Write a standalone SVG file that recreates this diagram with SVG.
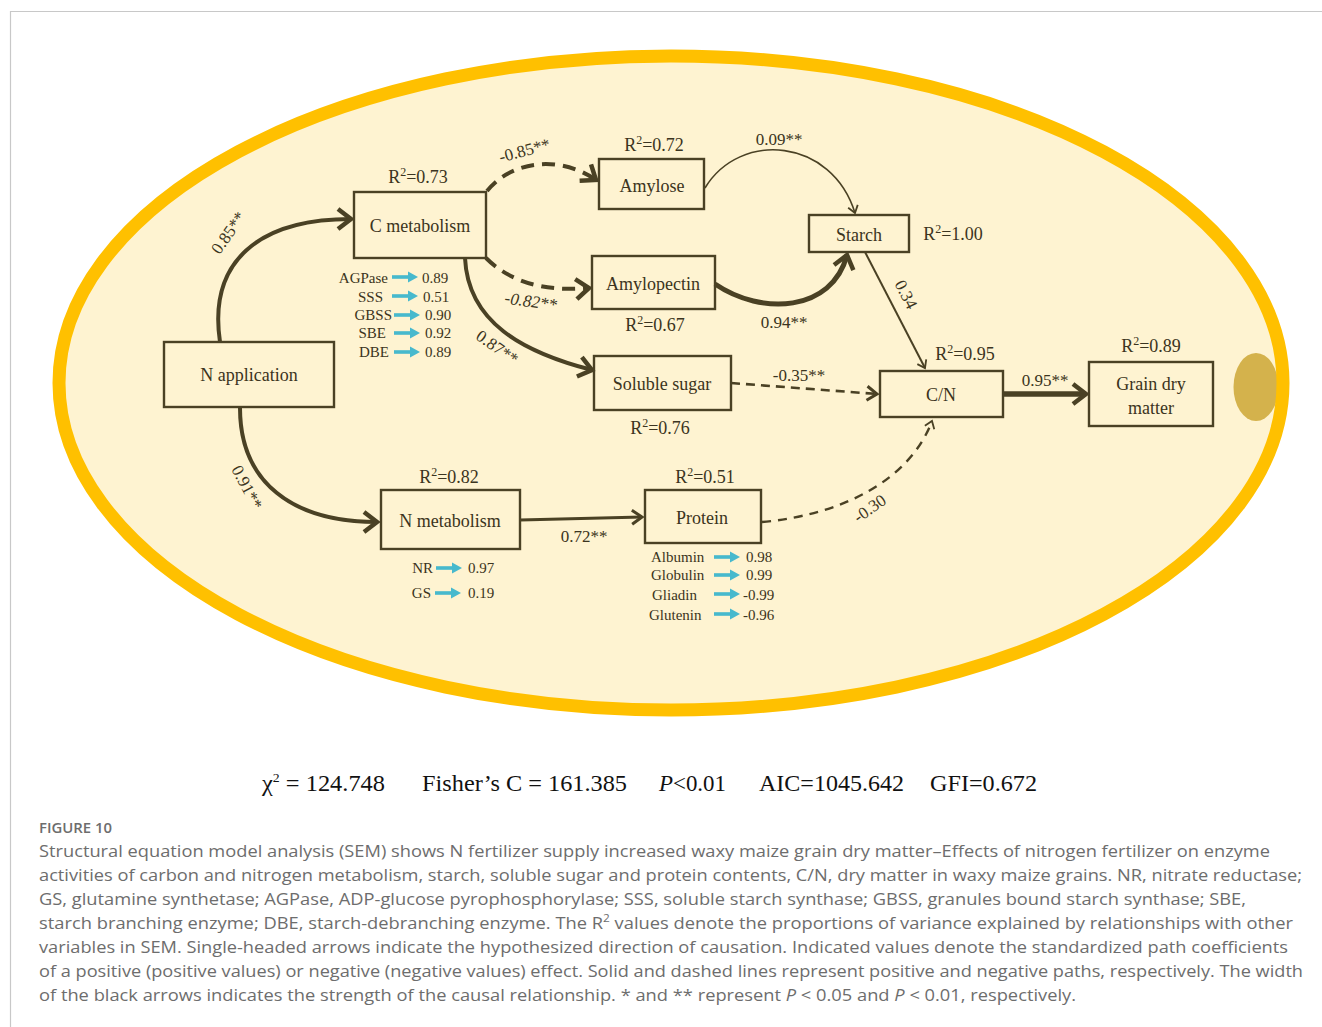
<svg xmlns="http://www.w3.org/2000/svg" width="1322" height="1027" viewBox="0 0 1322 1027">
<style>
.nt{font-family:"Liberation Serif","Times New Roman",serif;font-size:18px;fill:#3b3420;text-anchor:middle}
.box{fill:none;stroke:#4a4124;stroke-width:2.4}
.pc{font-family:"Liberation Serif","Times New Roman",serif;font-size:17px;fill:#3b3420;text-anchor:middle}
.en{font-family:"Liberation Serif","Times New Roman",serif;font-size:15px;fill:#3b3420}
.ln{fill:none;stroke:#4a4124;stroke-linecap:butt}
.st{font-family:"Liberation Serif","Times New Roman",serif;font-size:23px;fill:#111}
.cap{font-family:"Open Sans","Liberation Sans",sans-serif;font-size:17px;fill:#6d6d6d}
.ca{fill:#47b9cd}
</style>
<defs>
<marker id="ahL" markerUnits="userSpaceOnUse" viewBox="-20 -14 24 28" markerWidth="24" markerHeight="28" refX="0" refY="0" orient="auto" overflow="visible">
<path d="M-13,-10 L0,0 L-13,10" fill="none" stroke="#4a4124" stroke-width="4.5"/>
</marker>
<marker id="ahM" markerUnits="userSpaceOnUse" viewBox="-16 -12 20 24" markerWidth="20" markerHeight="24" refX="0" refY="0" orient="auto" overflow="visible">
<path d="M-10,-7 L0,0 L-10,7" fill="none" stroke="#4a4124" stroke-width="3"/>
</marker>
<marker id="ahS" markerUnits="userSpaceOnUse" viewBox="-12 -10 16 20" markerWidth="16" markerHeight="20" refX="0" refY="0" orient="auto" overflow="visible">
<path d="M-7,-5 L0,0 L-7,5" fill="none" stroke="#4a4124" stroke-width="1.8"/>
</marker>
<g id="carrow" class="ca"><rect x="0" y="-1.8" width="18" height="3.6"/><polygon points="16,-5.5 26,0 16,5.5"/></g>
</defs>

<rect x="0" y="0" width="1322" height="1027" fill="#fff"/>
<path d="M10.5,1027 V11.5 H1322" fill="none" stroke="#c8c8c8" stroke-width="1.2"/>

<g id="background">
<ellipse cx="671" cy="383" rx="612" ry="327" fill="#fef3d1"/>
<ellipse cx="1256" cy="387" rx="22.5" ry="34" fill="#d4b24c"/>
<ellipse cx="671" cy="383" rx="612" ry="327" fill="none" stroke="#ffc000" stroke-width="13"/>
</g>

<g id="connectors">
<path class="ln" d="M220,342 C208,262 258,219 351,219" stroke-width="4" marker-end="url(#ahL)"/>
<path class="ln" d="M240,408 C240,482 292,522 377,522" stroke-width="4" marker-end="url(#ahL)"/>
<path class="ln" d="M487,191 C512,160 560,155 596,180" stroke-width="4" stroke-dasharray="13,8" marker-end="url(#ahL)"/>
<path class="ln" d="M486,258 C510,282 545,292 589,288" stroke-width="4" stroke-dasharray="13,8" marker-end="url(#ahL)"/>
<path class="ln" d="M465,258 C468,322 522,352 592,370" stroke-width="4" marker-end="url(#ahL)"/>
<path class="ln" d="M705,188 C740,130 832,138 855,213" stroke-width="1.6" marker-end="url(#ahS)"/>
<path class="ln" d="M715,284 C762,316 832,312 847,255" stroke-width="5" marker-end="url(#ahL)"/>
<path class="ln" d="M865,252 L925,368" stroke-width="2" marker-end="url(#ahS)"/>
<path class="ln" d="M731,383 L877,394" stroke-width="2.6" stroke-dasharray="9,6" marker-end="url(#ahM)"/>
<path class="ln" d="M1003,394 L1086,394" stroke-width="5.5" marker-end="url(#ahL)"/>
<path class="ln" d="M520,520 L642,517" stroke-width="3" marker-end="url(#ahM)"/>
<path class="ln" d="M762,522 C842,515 910,480 932,421" stroke-width="2.4" stroke-dasharray="9,7" marker-end="url(#ahS)"/>
</g>

<g id="path-labels">
<text class="pc" transform="translate(233,236) rotate(-55)">0.85**</text>
<text class="pc" transform="translate(242,490) rotate(62)">0.91**</text>
<text class="pc" transform="translate(526,156) rotate(-15)">-0.85**</text>
<text class="pc" font-style="italic" transform="translate(530,307) rotate(8)">-0.82**</text>
<text class="pc" transform="translate(494,352) rotate(35)">0.87**</text>
<text class="pc" x="779" y="145">0.09**</text>
<text class="pc" x="784" y="328">0.94**</text>
<text class="pc" transform="translate(901,297) rotate(63)">0.34</text>
<text class="pc" x="799" y="381">-0.35**</text>
<text class="pc" x="1045" y="386">0.95**</text>
<text class="pc" x="584" y="542">0.72**</text>
<text class="pc" transform="translate(873,513) rotate(-35)">-0.30</text>
</g>

<g id="n-application">
<rect class="box" x="164" y="342" width="170" height="65"/>
<text class="nt" x="249" y="381">N application</text>
</g>

<g id="c-metabolism">
<rect class="box" x="354" y="192" width="132" height="66"/>
<text class="nt" x="420" y="232">C metabolism</text>
<text class="nt" x="418" y="183">R<tspan font-size="12" dy="-7">2</tspan><tspan dy="7">=0.73</tspan></text>
<g class="en">
<text x="388" y="283" text-anchor="end">AGPase</text>
<text x="383" y="302" text-anchor="end">SSS</text>
<text x="392" y="320" text-anchor="end">GBSS</text>
<text x="386" y="338" text-anchor="end">SBE</text>
<text x="389" y="357" text-anchor="end">DBE</text>
<text x="422" y="283">0.89</text>
<text x="423" y="302">0.51</text>
<text x="425" y="320">0.90</text>
<text x="425" y="338">0.92</text>
<text x="425" y="357">0.89</text>
</g>
<use href="#carrow" x="392" y="277"/>
<use href="#carrow" x="392" y="296"/>
<use href="#carrow" x="394" y="315"/>
<use href="#carrow" x="394" y="333"/>
<use href="#carrow" x="394" y="352"/>
</g>

<g id="amylose">
<rect class="box" x="599" y="159" width="105" height="50"/>
<text class="nt" x="652" y="192">Amylose</text>
<text class="nt" x="654" y="151">R<tspan font-size="12" dy="-7">2</tspan><tspan dy="7">=0.72</tspan></text>
</g>

<g id="amylopectin">
<rect class="box" x="592" y="256" width="123" height="53"/>
<text class="nt" x="653" y="290">Amylopectin</text>
<text class="nt" x="655" y="331">R<tspan font-size="12" dy="-7">2</tspan><tspan dy="7">=0.67</tspan></text>
</g>

<g id="starch">
<rect class="box" x="809" y="215" width="100" height="37"/>
<text class="nt" x="859" y="241">Starch</text>
<text class="nt" x="953" y="240">R<tspan font-size="12" dy="-7">2</tspan><tspan dy="7">=1.00</tspan></text>
</g>

<g id="soluble-sugar">
<rect class="box" x="594" y="356" width="137" height="54"/>
<text class="nt" x="662" y="390">Soluble sugar</text>
<text class="nt" x="660" y="434">R<tspan font-size="12" dy="-7">2</tspan><tspan dy="7">=0.76</tspan></text>
</g>

<g id="c-n">
<rect class="box" x="880" y="371" width="123" height="46"/>
<text class="nt" x="941" y="401">C/N</text>
<text class="nt" x="965" y="360">R<tspan font-size="12" dy="-7">2</tspan><tspan dy="7">=0.95</tspan></text>
</g>

<g id="grain-dry-matter">
<rect class="box" x="1089" y="362" width="124" height="64"/>
<text class="nt" x="1151" y="390">Grain dry</text>
<text class="nt" x="1151" y="414">matter</text>
<text class="nt" x="1151" y="352">R<tspan font-size="12" dy="-7">2</tspan><tspan dy="7">=0.89</tspan></text>
</g>

<g id="n-metabolism">
<rect class="box" x="381" y="490" width="139" height="59"/>
<text class="nt" x="450" y="527">N metabolism</text>
<text class="nt" x="449" y="483">R<tspan font-size="12" dy="-7">2</tspan><tspan dy="7">=0.82</tspan></text>
<g class="en">
<text x="433" y="573" text-anchor="end">NR</text>
<text x="431" y="598" text-anchor="end">GS</text>
<text x="468" y="573">0.97</text>
<text x="468" y="598">0.19</text>
</g>
<use href="#carrow" x="436" y="568"/>
<use href="#carrow" x="435" y="593"/>
</g>

<g id="protein">
<rect class="box" x="645" y="490" width="116" height="53"/>
<text class="nt" x="702" y="524">Protein</text>
<text class="nt" x="705" y="483">R<tspan font-size="12" dy="-7">2</tspan><tspan dy="7">=0.51</tspan></text>
<g class="en">
<text x="651" y="562">Albumin</text>
<text x="651" y="580">Globulin</text>
<text x="652" y="600">Gliadin</text>
<text x="649" y="620">Glutenin</text>
<text x="746" y="562">0.98</text>
<text x="746" y="580">0.99</text>
<text x="743" y="600">-0.99</text>
<text x="743" y="620">-0.96</text>
</g>
<use href="#carrow" x="714" y="557"/>
<use href="#carrow" x="714" y="575"/>
<use href="#carrow" x="714" y="594"/>
<use href="#carrow" x="714" y="614"/>
</g>

<g id="statistics">
<text class="st" x="262" y="791" textLength="123" lengthAdjust="spacingAndGlyphs">χ<tspan font-size="13" dy="-9">2</tspan><tspan dy="9"> = 124.748</tspan></text>
<text class="st" x="422" y="791" textLength="205" lengthAdjust="spacingAndGlyphs">Fisher’s C = 161.385</text>
<text class="st" x="659" y="791" textLength="67" lengthAdjust="spacingAndGlyphs"><tspan font-style="italic">P</tspan>&lt;0.01</text>
<text class="st" x="759" y="791" textLength="145" lengthAdjust="spacingAndGlyphs">AIC=1045.642</text>
<text class="st" x="930" y="791" textLength="107" lengthAdjust="spacingAndGlyphs">GFI=0.672</text>
</g>

<g id="caption">
<text x="39" y="833" font-family="'Open Sans','Liberation Sans',sans-serif" font-size="14" font-weight="600" fill="#6d6d6d" textLength="73" lengthAdjust="spacingAndGlyphs">FIGURE 10</text>
<text class="cap" x="39" y="857" textLength="1231" lengthAdjust="spacingAndGlyphs">Structural equation model analysis (SEM) shows N fertilizer supply increased waxy maize grain dry matter–Effects of nitrogen fertilizer on enzyme</text>
<text class="cap" x="39" y="881" textLength="1263" lengthAdjust="spacingAndGlyphs">activities of carbon and nitrogen metabolism, starch, soluble sugar and protein contents, C/N, dry matter in waxy maize grains. NR, nitrate reductase;</text>
<text class="cap" x="39" y="905" textLength="1207" lengthAdjust="spacingAndGlyphs">GS, glutamine synthetase; AGPase, ADP-glucose pyrophosphorylase; SSS, soluble starch synthase; GBSS, granules bound starch synthase; SBE,</text>
<text class="cap" x="39" y="929" textLength="1254" lengthAdjust="spacingAndGlyphs">starch branching enzyme; DBE, starch-debranching enzyme. The R<tspan font-size="11" dy="-7">2</tspan><tspan dy="7"> values denote the proportions of variance explained by relationships with other</tspan></text>
<text class="cap" x="39" y="953" textLength="1249" lengthAdjust="spacingAndGlyphs">variables in SEM. Single-headed arrows indicate the hypothesized direction of causation. Indicated values denote the standardized path coefficients</text>
<text class="cap" x="39" y="977" textLength="1264" lengthAdjust="spacingAndGlyphs">of a positive (positive values) or negative (negative values) effect. Solid and dashed lines represent positive and negative paths, respectively. The width</text>
<text class="cap" x="39" y="1001" textLength="1037" lengthAdjust="spacingAndGlyphs">of the black arrows indicates the strength of the causal relationship. * and ** represent <tspan font-style="italic">P</tspan> &lt; 0.05 and <tspan font-style="italic">P</tspan> &lt; 0.01, respectively.</text>
</g>
</svg>
